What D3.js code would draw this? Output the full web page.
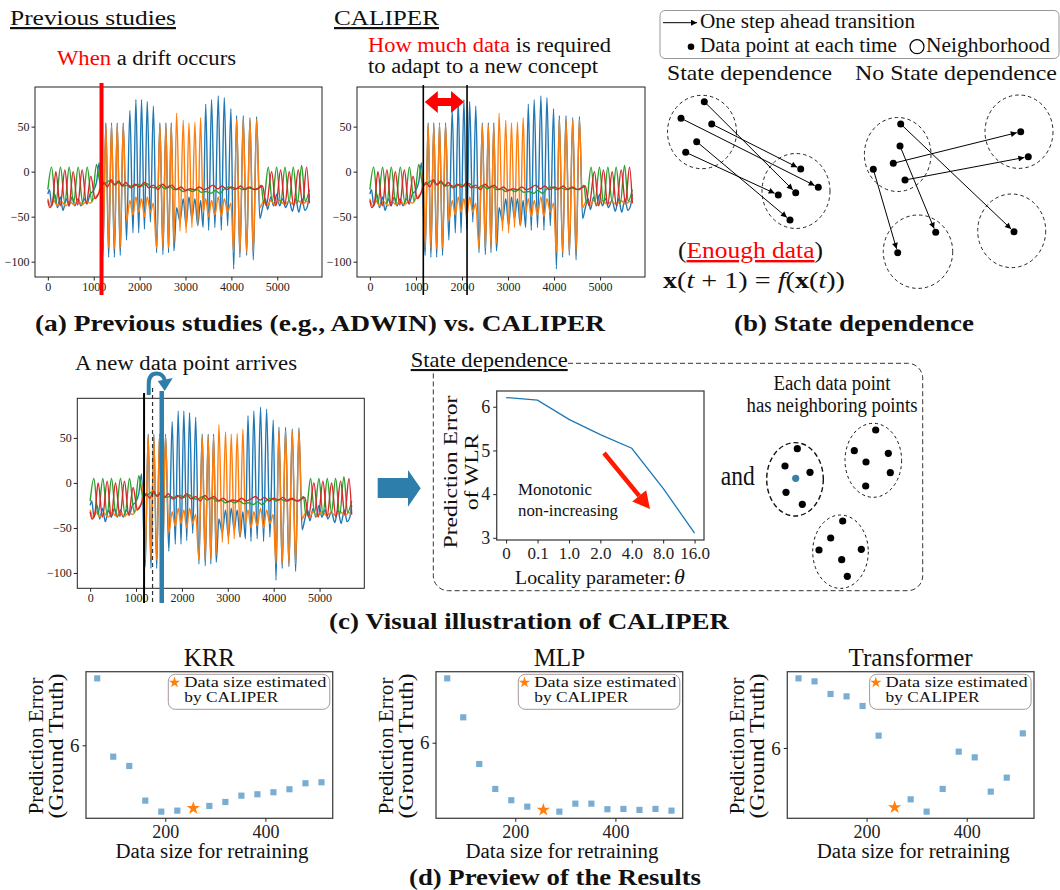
<!DOCTYPE html>
<html>
<head>
<meta charset="utf-8">
<script src="https://cdn.jsdelivr.net/npm/d3@7"></script>
<style>
  body { margin: 0; background: #fff; }
  svg { display: block; }
  svg text { font-family: "Liberation Serif", "Times New Roman", Times, "DejaVu Serif", serif; }
</style>
</head>
<body>
<svg id="fig" width="1060" height="890"></svg>
<script>
// ---- time series (same stream drawn in (a) and (c)) : [time, value] knots
const blueKnots = [
  [0,-25],[35,-20],[85,-38],[150,-25],[210,-40],[270,-28],[330,-43],[400,-30],[460,-38],[530,-28],[590,-38],[660,-30],[720,-38],[790,-30],[850,-36],[920,-25],[980,-22],[1060,-12],[1120,10],
  [1200,-93],[1265,54],[1325,-95],[1388,54],[1450,-95],[1512,54],[1578,-93],[1643,54],[1715,-76],[1788,68],[1855,-68],[1919,80],[1980,-68],[2042,80],[2105,-64],[2166,78],[2235,-56],[2300,73],
  [2370,-90],[2442,54],[2508,-92],[2573,54],[2630,-90],[2690,54],[2748,-88],[2806,-40],[2880,-55],[2951,-30],[3013,-60],[3075,-28],[3140,-52],[3205,-30],[3267,-60],[3329,-32],[3385,-62],
  [3440,75],[3505,-65],[3568,80],[3640,-62],[3714,84],[3780,-65],[3845,82],[3918,-60],[3990,70],[4050,-108],[4114,62],[4186,-95],[4259,62],[4332,-93],[4405,60],[4478,-98],[4550,61],[4620,-52],
  [4680,-40],[4740,-30],[4790,-42],[4860,-28],[4920,-38],[4990,-25],[5050,-38],[5120,-30],[5180,-40],[5260,-32],[5330,-44],[5400,-30],[5470,-45],[5540,-30],[5600,-43],[5660,-38],[5700,-25]
];
const orangeKnots = [
  [0,-30],[60,-38],[130,-32],[210,-38],[300,-33],[390,-38],[480,-33],[570,-37],[660,-32],[750,-37],[840,-33],[930,-35],[1000,-30],[1060,-27],[1120,-22],[1160,0],
  [1200,-85],[1265,52],[1325,-85],[1388,52],[1450,-86],[1512,53],[1578,-85],[1643,52],[1715,-55],[1788,-32],[1855,-48],[1919,-28],[1980,-45],[2042,-30],[2105,-50],[2166,-28],[2235,-45],[2300,-35],
  [2370,-85],[2442,52],[2508,-85],[2573,52],[2630,-85],[2690,52],[2748,-80],[2806,65],[2880,-66],[2951,57],[3013,-68],[3075,54],[3140,-62],[3205,55],[3267,-60],[3329,60],[3385,-45],
  [3440,-30],[3505,-50],[3568,-32],[3640,-48],[3714,-28],[3780,-50],[3845,-30],[3918,-45],[3990,-35],[4050,-90],[4114,58],[4186,-90],[4259,58],[4332,-90],[4405,58],[4478,-90],[4550,58],[4620,-40],
  [4700,-33],[4780,-38],[4860,-32],[4950,-37],[5050,-32],[5150,-36],[5250,-33],[5350,-36],[5450,-32],[5550,-36],[5650,-33],[5700,-35]
];
const greenKnots = [
  [0,-20],[80,5],[175,-35],[276,5],[370,-35],[465,5],[560,-35],[661,5],[760,-35],[858,5],[960,-33],[1061,8],[1110,-5],
  [1150,-15],[1250,-13],[1350,-10],[1450,-14],[1550,-12],[1650,-16],[1750,-15],[1850,-17],[1950,-14],[2050,-16],[2150,-13],[2250,-17],[2350,-18],[2450,-15],[2550,-19],[2650,-16],
  [2750,-20],[2850,-19],[2950,-22],[3050,-20],[3150,-22],[3250,-20],[3350,-23],[3450,-22],[3550,-24],[3650,-21],[3750,-24],[3850,-19],[3950,-17],[4050,-20],[4150,-18],[4250,-20],
  [4350,-18],[4450,-19],[4550,-20],[4650,-15],[4700,-35],[4804,5],[4890,-33],[4986,5],[5075,-35],[5168,5],[5260,-33],[5349,5],[5440,-35],[5531,7],[5610,-33],[5700,-20]
];
const redKnots = [
  [0,-32],[40,-40],[100,-35],[174,0],[270,-38],[371,2],[460,-38],[552,0],[650,-37],[748,2],[840,-35],[937,-5],[1030,-30],[1100,-25],
  [1150,-18],[1220,-12],[1300,-17],[1380,-9],[1460,-15],[1540,-10],[1620,-16],[1700,-12],[1800,-18],[1900,-14],[2000,-17],[2100,-12],[2200,-18],[2300,-15],[2400,-20],[2500,-14],
  [2600,-18],[2700,-15],[2800,-20],[2900,-17],[3000,-21],[3100,-19],[3200,-20],[3300,-17],[3400,-20],[3500,-18],[3600,-15],[3700,-19],[3800,-16],[3900,-20],[4000,-17],[4100,-19],
  [4200,-16],[4300,-20],[4400,-17],[4500,-20],[4600,-18],[4680,-16],[4760,-38],[4877,0],[4970,-38],[5073,2],[5165,-37],[5262,0],[5355,-38],[5458,2],[5550,-35],[5640,5],[5700,-35]
];
const tsXLim = [-280, 5975];
const tsYLim = [-117, 94];
const tsXTicks = [0, 1000, 2000, 3000, 4000, 5000];
const tsYTicks = [-100, -50, 0, 50];
const driftTime = 1170;            // (a) left: ADWIN style drift point
const caliperWindow = [1160, 2110]; // (a) right: window of data required
const arrivalTimes = { drift: 1175, prev: 1360, current: 1560 }; // (c)

// ---- (c) locality parameter curve
const thetaLabels = ["0", "0.1", "1.0", "2.0", "4.0", "8.0", "16.0"];
const wlrError = [6.21, 6.15, 5.71, 5.36, 5.05, 4.13, 3.11];
const wlrTicks = [3, 4, 5, 6];

// ---- (d) previews
const dataSizes = [64, 96, 128, 160, 192, 224, 256, 288, 320, 352, 384, 416, 448, 480, 512];
const caliperSize = 256;
const krrError = [6.67, 5.886, 5.793, 5.446, 5.336, 5.346, 5.37, 5.393, 5.433, 5.496, 5.51, 5.53, 5.56, 5.62, 5.63];
const mlpError = [6.644, 6.254, 5.787, 5.537, 5.424, 5.36, 5.327, 5.31, 5.39, 5.39, 5.334, 5.337, 5.327, 5.337, 5.32];
const trfError = [6.696, 6.666, 6.54, 6.516, 6.42, 6.123, 5.406, 5.486, 5.363, 5.59, 5.963, 5.906, 5.563, 5.703, 6.146];
const previewModels = ["KRR", "MLP", "Transformer"];

// ---- (b) / (c) sketch points
const stateDots = [[704.3,101.7],[681,118.3],[711.7,124],[696.7,141.7],[685.7,152.3],[800.7,169],[818.3,187.3],[778.3,195],[795.7,192.7],[790,220]];
const stateLinks = [[0,8],[1,6],[2,5],[3,9],[4,7]];
const stateHoods = [[702,132,34.5,36.7],[796,191,34,37.5]];
const noStateDots = [[900.7,124],[900,146],[893.3,163.3],[873.3,169.3],[905,180],[1020.7,131.7],[1028.3,156.7],[935.7,232.3],[897.7,252.7],[1014,231.7]];
const noStateLinks = [[0,9],[1,7],[2,5],[4,6],[3,8]];
const noStateHoods = [[897.7,154.5,33.3,37],[1019,131.7,34,36.7],[918,251.7,34.7,36.7],[1011.7,230.8,34,36.8]];
const neighborHoods = [[795,479.3,28.3,36.7],[873.3,460.3,28.3,37],[840.5,551.7,27.8,36.7]];
const neighborDots = [[797.3,448.7],[785,466],[810,472.3],[786,492.3],[802.3,504.3],
  [875.7,430],[854.3,450.7],[888.3,453.3],[866,462],[890.3,472.7],[865.7,486],
  [842.7,521],[830.7,538],[819,550],[861.3,549.3],[841.7,559.7],[847.3,576.3]];
const queryDot = [795.7, 478.3];

const C0 = "#1f77b4", C1 = "#ff7f0e", C2 = "#2ca02c", C3 = "#d62728";
const teal = "#2e7eab";
const SERIF = '"Liberation Serif", "Times New Roman", Times, serif';
const svg = d3.select("#fig").attr("font-family", SERIF);
const px = d3.scaleIdentity(), py = d3.scaleIdentity();

const defs = svg.append("defs");
defs.append("marker").attr("id", "ah").attr("viewBox", "0 0 10 10").attr("refX", 10).attr("refY", 5)
  .attr("markerWidth", 7).attr("markerHeight", 6).attr("markerUnits", "userSpaceOnUse").attr("orient", "auto")
  .append("path").attr("d", "M0,0 L10,5 L0,10 Z").attr("fill", "#000");

function label(parent, x, y, str, o = {}) {
  const t = parent.append("text").attr("x", x).attr("y", y).text(str).attr("font-family", SERIF)
    .attr("font-size", o.size || 20).attr("text-anchor", o.anchor || "start").attr("fill", o.fill || "#111");
  if (o.bold) t.attr("font-weight", "bold");
  if (o.len) t.attr("textLength", o.len).attr("lengthAdjust", "spacingAndGlyphs");
  if (o.rot) t.attr("transform", `rotate(-90,${x},${y})`);
  if (o.under) t.style("text-decoration", "underline");
  return t;
}

function styleAxis(a, size) {
  a.select(".domain").remove();
  a.attr("font-family", SERIF).attr("font-size", size);
  a.selectAll("text").attr("fill", "#222").attr("font-family", SERIF);
  a.selectAll("line").attr("stroke", "#222");
}

// ===== time-series panel
function tsPlot(box) {
  const g = svg.append("g");
  const x = d3.scaleLinear().domain(tsXLim).range([box.l, box.r]);
  const y = d3.scaleLinear().domain(tsYLim).range([box.b, box.t]);
  const line = d3.line().x(d => x(d[0])).y(d => y(d[1])).curve(d3.curveMonotoneX);
  [[blueKnots, C0], [orangeKnots, C1], [greenKnots, C2], [redKnots, C3]].forEach(([k, c]) => {
    g.append("path").attr("d", line(k)).attr("fill", "none").attr("stroke", c).attr("stroke-width", 1.4);
  });
  g.append("rect").attr("x", box.l).attr("y", box.t).attr("width", box.r - box.l).attr("height", box.b - box.t)
    .attr("fill", "none").attr("stroke", "#222").attr("stroke-width", 1);
  const xa = g.append("g").attr("transform", `translate(0,${box.b})`)
    .call(d3.axisBottom(x).tickValues(tsXTicks).tickSize(3.5).tickPadding(2).tickFormat(d3.format("d")));
  const ya = g.append("g").attr("transform", `translate(${box.l},0)`)
    .call(d3.axisLeft(y).tickValues(tsYTicks).tickSize(3.5).tickPadding(2).tickFormat(d3.format("d")));
  styleAxis(xa, 12); styleAxis(ya, 12);
  return { g, x, y };
}

// (a) left
const pa = tsPlot({ l: 35, r: 322, t: 87, b: 277 });
label(svg, 10, 25, "Previous studies", { size: 22, len: 166, under: true });
{
  const t = label(svg, 57, 65, "", { size: 20, len: 179 });
  t.append("tspan").attr("fill", "#ff0000").text("When");
  t.append("tspan").text(" a drift occurs");
}
pa.g.append("line").attr("x1", pa.x(driftTime)).attr("x2", pa.x(driftTime)).attr("y1", 83).attr("y2", 295)
  .attr("stroke", "#ff0000").attr("stroke-width", 4);

// (a) right
const pb = tsPlot({ l: 357, r: 645, t: 87, b: 277 });
label(svg, 334, 25, "CALIPER", { size: 22, len: 105, under: true });
{
  const t1 = label(svg, 368, 52, "", { size: 20, len: 243 });
  t1.append("tspan").attr("fill", "#ff0000").text("How much data");
  t1.append("tspan").text(" is required");
  label(svg, 368, 73, "to adapt to a new concept", { size: 20, len: 230 });
}
caliperWindow.forEach(t => {
  pb.g.append("line").attr("x1", pb.x(t)).attr("x2", pb.x(t)).attr("y1", 85).attr("y2", 295)
    .attr("stroke", "#000").attr("stroke-width", 1.6);
});
{
  const xa = pb.x(caliperWindow[0]) + 1.5, xb = pb.x(caliperWindow[1]) - 3, yc = 102, hl = 13, sh = 4, hh = 11;
  pb.g.append("path").attr("fill", "#ff0000").attr("d",
    `M${xa},${yc} L${xa + hl},${yc - hh} L${xa + hl},${yc - sh} L${xb - hl},${yc - sh} L${xb - hl},${yc - hh} L${xb},${yc} ` +
    `L${xb - hl},${yc + hh} L${xb - hl},${yc + sh} L${xa + hl},${yc + sh} L${xa + hl},${yc + hh} Z`);
}
label(svg, 320, 331, "(a) Previous studies (e.g., ADWIN) vs. CALIPER", { size: 24, bold: true, anchor: "middle", len: 570 });

// ===== (b) state dependence sketch
{
  const g = svg.append("g");
  g.append("rect").attr("x", 660).attr("y", 10.5).attr("width", 399).attr("height", 48).attr("rx", 5)
    .attr("fill", "#fff").attr("stroke", "#999").attr("stroke-width", 1);
  g.append("line").attr("x1", 663).attr("x2", 697).attr("y1", 22.7).attr("y2", 22.7)
    .attr("stroke", "#000").attr("stroke-width", 1).attr("marker-end", "url(#ah)");
  label(g, 700, 28, "One step ahead transition", { size: 20, len: 215 });
  g.append("circle").attr("cx", 691).attr("cy", 46.7).attr("r", 3.3).attr("fill", "#000");
  label(g, 700, 52, "Data point at each time", { size: 20, len: 197 });
  g.append("circle").attr("cx", 917).attr("cy", 46.7).attr("r", 7).attr("fill", "none").attr("stroke", "#000").attr("stroke-width", 1.2);
  label(g, 926, 52, "Neighborhood", { size: 20, len: 124 });
  label(g, 667, 80, "State dependence", { size: 21, len: 165 });
  label(g, 855, 80, "No State dependence", { size: 21, len: 202 });

  function sketch(hoods, dots, links) {
    g.selectAll(null).data(hoods).join("ellipse")
      .attr("cx", d => px(d[0])).attr("cy", d => py(d[1])).attr("rx", d => d[2]).attr("ry", d => d[3])
      .attr("fill", "none").attr("stroke", "#222").attr("stroke-width", 1).attr("stroke-dasharray", "3.5,3");
    g.selectAll(null).data(links).join("line")
      .each(function ([a, b]) {
        const [x1, y1] = dots[a], [x2, y2] = dots[b];
        const L = Math.hypot(x2 - x1, y2 - y1), k = (L - 4) / L;
        d3.select(this).attr("x1", px(x1)).attr("y1", py(y1)).attr("x2", px(x1 + (x2 - x1) * k)).attr("y2", py(y1 + (y2 - y1) * k));
      })
      .attr("stroke", "#000").attr("stroke-width", 1).attr("marker-end", "url(#ah)");
    g.selectAll(null).data(dots).join("circle")
      .attr("cx", d => px(d[0])).attr("cy", d => py(d[1])).attr("r", 3.5).attr("fill", "#000");
  }
  sketch(stateHoods, stateDots, stateLinks);
  sketch(noStateHoods, noStateDots, noStateLinks);

  const e = label(g, 678, 258, "", { size: 24, len: 145 });
  e.append("tspan").text("(");
  e.append("tspan").attr("fill", "#ff0000").style("text-decoration", "underline").text("Enough data");
  e.append("tspan").text(")");
  const m = label(g, 663, 288, "", { size: 24, len: 182 });
  m.append("tspan").attr("font-weight", "bold").text("x");
  m.append("tspan").text("(");
  m.append("tspan").attr("font-style", "italic").text("t");
  m.append("tspan").text(" + 1) = ");
  m.append("tspan").attr("font-style", "italic").text("f");
  m.append("tspan").text("(");
  m.append("tspan").attr("font-weight", "bold").text("x");
  m.append("tspan").text("(");
  m.append("tspan").attr("font-style", "italic").text("t");
  m.append("tspan").text("))");
  label(g, 854, 331, "(b) State dependence", { size: 24, bold: true, anchor: "middle", len: 240 });
}

// ===== (c) visual illustration
const pc = tsPlot({ l: 77.3, r: 364.3, t: 398.3, b: 588.3 });
label(svg, 75, 370, "A new data point arrives", { size: 20, len: 222 });
pc.g.append("line").attr("x1", pc.x(arrivalTimes.drift)).attr("x2", pc.x(arrivalTimes.drift)).attr("y1", 393).attr("y2", 603)
  .attr("stroke", "#000").attr("stroke-width", 2);
pc.g.append("line").attr("x1", pc.x(arrivalTimes.prev)).attr("x2", pc.x(arrivalTimes.prev)).attr("y1", 388).attr("y2", 603)
  .attr("stroke", "#333").attr("stroke-width", 1.2).attr("stroke-dasharray", "4,3");
{
  const xc = pc.x(arrivalTimes.current);
  pc.g.append("line").attr("x1", xc).attr("x2", xc).attr("y1", 391).attr("y2", 603).attr("stroke", teal).attr("stroke-width", 4.5);
  pc.g.append("path").attr("d", `M${xc - 13},395 V384 Q${xc - 13},373.5 ${xc - 5},373.5 Q${xc + 1},373.5 ${xc + 3},380`)
    .attr("fill", "none").attr("stroke", teal).attr("stroke-width", 4);
  pc.g.append("path").attr("d", `M${xc - 4},381 L${xc + 11},378 L${xc + 3},391 Z`).attr("fill", teal);
}
// block arrow
svg.append("path").attr("fill", teal)
  .attr("d", "M377.7,478 L408,478 L408,470 L420.7,488.3 L408,506.7 L408,498 L377.7,498 Z");

// dashed frame with title
svg.append("path").attr("fill", "none").attr("stroke", "#333").attr("stroke-width", 1).attr("stroke-dasharray", "5,3")
  .attr("d", "M568,363.3 H907.7 A15,15 0 0 1 922.7,378.3 V575.7 A15,15 0 0 1 907.7,590.7 H448.3 A15,15 0 0 1 433.3,575.7 V373");
label(svg, 410.7, 367, "State dependence", { size: 21, len: 157, under: true });

// WLR plot
{
  const box = { l: 496.7, r: 704, t: 391, b: 540 };
  const g = svg.append("g");
  const x = d3.scaleLinear().domain([-0.3, thetaLabels.length - 1 + 0.3]).range([box.l, box.r]);
  const y = d3.scaleLinear().domain([2.95, 6.36]).range([box.b, box.t]);
  g.append("path").datum(wlrError)
    .attr("d", d3.line().x((d, i) => x(i)).y(d => y(d)))
    .attr("fill", "none").attr("stroke", C0).attr("stroke-width", 1.3);
  g.append("rect").attr("x", box.l).attr("y", box.t).attr("width", box.r - box.l).attr("height", box.b - box.t)
    .attr("fill", "none").attr("stroke", "#444").attr("stroke-width", 1.3);
  const xa = g.append("g").attr("transform", `translate(0,${box.b})`)
    .call(d3.axisBottom(x).tickValues(d3.range(thetaLabels.length)).tickFormat(i => thetaLabels[i]).tickSize(3.5).tickPadding(3));
  const ya = g.append("g").attr("transform", `translate(${box.l},0)`)
    .call(d3.axisLeft(y).tickValues(wlrTicks).tickFormat(d3.format("d")).tickSize(3.5).tickPadding(3));
  styleAxis(xa, 17); styleAxis(ya, 18);
  label(g, 457, 472, "Prediction Error", { size: 19, anchor: "middle", rot: true, len: 153 });
  label(g, 478, 472, "of WLR", { size: 19, anchor: "middle", rot: true, len: 76 });
  label(g, 515, 584, "Locality parameter: ", { size: 19, len: 156 });
  label(g, 674, 584, "θ", { size: 22 }).attr("font-style", "italic");
  label(g, 518, 495, "Monotonic", { size: 17, len: 74 });
  label(g, 518, 516, "non-increasing", { size: 17, len: 100 });
  // red trend arrow
  const x1 = 604, y1 = 453, x2 = 650, y2 = 509;
  const L = Math.hypot(x2 - x1, y2 - y1), ux = (x2 - x1) / L, uy = (y2 - y1) / L, hl = 17, hw = 9;
  const bx = x2 - ux * hl, by = y2 - uy * hl;
  g.append("line").attr("x1", x1).attr("y1", y1).attr("x2", bx).attr("y2", by).attr("stroke", "#ff1a00").attr("stroke-width", 4.5);
  g.append("path").attr("fill", "#ff1a00")
    .attr("d", `M${x2},${y2} L${bx - uy * hw},${by + ux * hw} L${bx + uy * hw},${by - ux * hw} Z`);
}
label(svg, 720.7, 485, "and", { size: 27, len: 34 });
label(svg, 832, 390, "Each data point", { size: 20, anchor: "middle", len: 117 });
label(svg, 832, 412, "has neighboring points", { size: 20, anchor: "middle", len: 171 });
{
  const g = svg.append("g");
  g.selectAll(null).data(neighborHoods).join("ellipse")
    .attr("cx", d => px(d[0])).attr("cy", d => py(d[1])).attr("rx", d => d[2]).attr("ry", d => d[3])
    .attr("fill", "none").attr("stroke", "#111")
    .attr("stroke-width", (d, i) => i === 0 ? 1.4 : 1).attr("stroke-dasharray", (d, i) => i === 0 ? "5,3" : "3,3");
  g.selectAll(null).data(neighborDots).join("circle")
    .attr("cx", d => px(d[0])).attr("cy", d => py(d[1])).attr("r", 3.6).attr("fill", "#000");
  g.append("circle").attr("cx", px(queryDot[0])).attr("cy", py(queryDot[1])).attr("r", 3.6).attr("fill", "#3b7ea6");
}
label(svg, 529, 629, "(c) Visual illustration of CALIPER", { size: 24, bold: true, anchor: "middle", len: 400 });

// ===== (d) previews
function preview(left, title, errs) {
  const box = { l: left, r: left + 246.7, t: 671.7, b: 818.3 };
  const g = svg.append("g");
  const xr = dataSizes[dataSizes.length - 1] - dataSizes[0];
  const x = d3.scaleLinear().domain([dataSizes[0] - xr * 0.05, dataSizes[dataSizes.length - 1] + xr * 0.05]).range([box.l, box.r]);
  const [lo, hi] = d3.extent(errs), yr = hi - lo;
  const y = d3.scaleLinear().domain([lo - yr * 0.05, hi + yr * 0.05]).range([box.b, box.t]);
  const pts = dataSizes.map((s, i) => ({ s, e: errs[i] }));
  g.selectAll(null).data(pts.filter(d => d.s !== caliperSize)).join("path")
    .attr("transform", d => `translate(${x(d.s)},${y(d.e)})`)
    .attr("d", d3.symbol(d3.symbolSquare, 38)).attr("fill", C0).attr("fill-opacity", 0.6);
  g.selectAll(null).data(pts.filter(d => d.s === caliperSize)).join("path")
    .attr("transform", d => `translate(${x(d.s)},${y(d.e)})`)
    .attr("d", d3.symbol(d3.symbolStar, 55)).attr("fill", C1);
  g.append("rect").attr("x", box.l).attr("y", box.t).attr("width", box.r - box.l).attr("height", box.b - box.t)
    .attr("fill", "none").attr("stroke", "#444").attr("stroke-width", 1.3);
  const xa = g.append("g").attr("transform", `translate(0,${box.b})`)
    .call(d3.axisBottom(x).tickValues([200, 400]).tickFormat(d3.format("d")).tickSize(3.5).tickPadding(3));
  const ya = g.append("g").attr("transform", `translate(${box.l},0)`)
    .call(d3.axisLeft(y).tickValues([6]).tickFormat(d3.format("d")).tickSize(3.5).tickPadding(3));
  styleAxis(xa, 18); styleAxis(ya, 19);
  // legend
  g.append("rect").attr("x", box.l + 82.3).attr("y", 674.3).attr("width", 161.5).attr("height", 35).attr("rx", 7)
    .attr("fill", "#fff").attr("fill-opacity", 0.8).attr("stroke", "#a89898").attr("stroke-width", 1);
  g.append("path").attr("transform", `translate(${box.l + 88.5},682.5)`).attr("d", d3.symbol(d3.symbolStar, 40)).attr("fill", C1);
  label(g, box.l + 98.3, 687, "Data size estimated", { size: 15, len: 142 });
  label(g, box.l + 98.3, 702, "by CALIPER", { size: 15, len: 94 });
  label(g, (box.l + box.r) / 2, 666, title, { size: 25, anchor: "middle" });
  label(g, box.l + 126, 858, "Data size for retraining", { size: 20, anchor: "middle", len: 193 });
  label(g, box.l - 43, 746, "Prediction Error", { size: 20, anchor: "middle", rot: true, len: 137 });
  label(g, box.l - 23, 746, "(Ground Truth)", { size: 20, anchor: "middle", rot: true, len: 145 });
}
preview(86, previewModels[0], krrError);
preview(436, previewModels[1], mlpError);
preview(787.3, previewModels[2], trfError);
label(svg, 555, 885, "(d) Preview of the Results", { size: 24, bold: true, anchor: "middle", len: 292 });
</script>
</body>
</html>
